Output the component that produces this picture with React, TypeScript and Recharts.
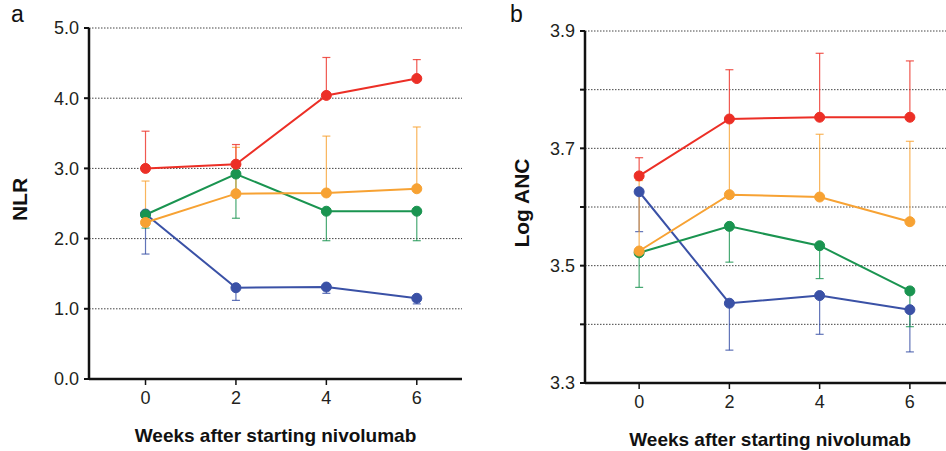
import { LineChart, Line, XAxis, YAxis, CartesianGrid, ErrorBar, Label } from 'recharts';

const WEEKS = [0, 2, 4, 6];

// panel a: NLR
const nlrRed = [3.0, 3.06, 4.04, 4.28];
const nlrRedHi = [3.53, 3.34, 4.58, 4.55];
const nlrOrange = [2.23, 2.64, 2.65, 2.71];
const nlrOrangeHi = [2.82, 3.3, 3.46, 3.59];
const nlrGreen = [2.34, 2.92, 2.39, 2.39];
const nlrGreenLo = [2.15, 2.29, 1.97, 1.97];
const nlrBlue = [2.35, 1.3, 1.31, 1.15];
const nlrBlueLo = [1.78, 1.12, 1.22, 1.07];

// panel b: Log ANC
const ancRed = [3.653, 3.75, 3.753, 3.753];
const ancRedHi = [3.684, 3.834, 3.862, 3.849];
const ancOrange = [3.525, 3.621, 3.617, 3.575];
const ancOrangeHi = [3.645, 3.75, 3.724, 3.712];
const ancGreen = [3.522, 3.567, 3.534, 3.457];
const ancGreenLo = [3.463, 3.506, 3.478, 3.396];
const ancBlue = [3.626, 3.436, 3.449, 3.425];
const ancBlueLo = [3.558, 3.356, 3.383, 3.353];

const NLR_TICKS = [0, 1, 2, 3, 4, 5];
const ANC_TICKS = [3.3, 3.4, 3.5, 3.6, 3.7, 3.8, 3.9];
const X_LABEL = 'Weeks after starting nivolumab';

const RED = '#ec2f26';
const ORANGE = '#f7a233';
const GREEN = '#1a9450';
const BLUE = '#3a51a6';
const FONT = '"Liberation Sans", Arial, sans-serif';

const up = (v: number[], hi: number[]) => v.map((x, i) => [0, hi[i] - x]);
const down = (v: number[], lo: number[]) => v.map((x, i) => [x - lo[i], 0]);

function buildRows(red: number[], redHi: number[], orange: number[], orangeHi: number[],
  green: number[], greenLo: number[], blue: number[], blueLo: number[]) {
  const rE = up(red, redHi), oE = up(orange, orangeHi);
  const gE = down(green, greenLo), bE = down(blue, blueLo);
  return WEEKS.map((w, i) => ({
    week: w,
    red: red[i], redErr: rE[i],
    orange: orange[i], orangeErr: oE[i],
    green: green[i], greenErr: gE[i],
    blue: blue[i], blueErr: bE[i],
  }));
}

const nlrRows = buildRows(nlrRed, nlrRedHi, nlrOrange, nlrOrangeHi, nlrGreen, nlrGreenLo, nlrBlue, nlrBlueLo);
const ancRows = buildRows(ancRed, ancRedHi, ancOrange, ancOrangeHi, ancGreen, ancGreenLo, ancBlue, ancBlueLo);

const tickStyle = { fontSize: 18, fill: '#231f20', fontFamily: FONT };

function YTitle(props: any) {
  const { viewBox, value, gap } = props;
  const cx = viewBox.x + viewBox.width - gap;
  const cy = viewBox.y + viewBox.height / 2 - 4;
  return (
    <text x={cx} y={cy} transform={`rotate(-90, ${cx}, ${cy})`} textAnchor="middle" dominantBaseline="central"
      style={{ fontSize: 21, fontWeight: 'bold', fontFamily: FONT, fill: '#111' }}>
      {value}
    </text>
  );
}

function series() {
  const list = [
    { key: 'blue', color: BLUE },
    { key: 'green', color: GREEN },
    { key: 'orange', color: ORANGE },
    { key: 'red', color: RED },
  ];
  return list.map((s) => (
    <Line key={s.key} type="linear" dataKey={s.key} stroke={s.color} strokeWidth={2}
      dot={{ r: 5, fill: s.color, stroke: s.color, strokeWidth: 1 }} isAnimationActive={false}>
      <ErrorBar dataKey={`${s.key}Err`} direction="y" width={4} stroke={s.color} strokeOpacity={0.8}
        strokeWidth={1.2} isAnimationActive={false} />
    </Line>
  ));
}

function Panel(props: { rows: any[]; domainX: number[]; domainY: number[]; ticks: number[];
  fmt: (v: number) => string; title: string; width: number; top: number; bottom: number; yAxisLeft: number; titleGap: number }) {
  const { rows, domainX, domainY, ticks, fmt, title, width, top, bottom, yAxisLeft, titleGap } = props;
  return (
    <LineChart width={width} height={451} data={rows}
      margin={{ top, right: 8, bottom: bottom - 63, left: yAxisLeft - 60 }}>
      <CartesianGrid horizontal vertical={false} stroke="#444" strokeDasharray="1.5 1.5" />
      <XAxis type="number" dataKey="week" domain={domainX} ticks={WEEKS} allowDataOverflow
        height={63} tickSize={6} tickMargin={6} tick={tickStyle}
        axisLine={{ stroke: '#111', strokeWidth: 2.5 }} tickLine={{ stroke: '#111', strokeWidth: 1.5 }}>
        <Label value={X_LABEL} position="insideBottom" offset={0}
          style={{ fontSize: 19, fontWeight: 'bold', fontFamily: FONT, fill: '#111' }} />
      </XAxis>
      <YAxis type="number" domain={domainY} ticks={ticks} interval={0} allowDataOverflow width={60}
        tickFormatter={fmt} tickSize={5} tickMargin={5} tick={tickStyle}
        axisLine={{ stroke: '#111', strokeWidth: 2.5 }} tickLine={{ stroke: '#111', strokeWidth: 2 }}>
        <Label content={(p: any) => <YTitle {...p} value={title} gap={titleGap} />} />
      </YAxis>
      {series()}
    </LineChart>
  );
}

export default function App() {
  return (
    <div style={{ position: 'absolute', left: 0, top: 0, width: 946, height: 451, overflow: 'hidden', background: '#fff' }}>
      <div style={{ position: 'absolute', left: 11, top: 1, fontSize: 23, fontFamily: FONT, color: '#111' }}>a</div>
      <div style={{ position: 'absolute', left: 510, top: 1, fontSize: 23, fontFamily: FONT, color: '#111' }}>b</div>
      <div style={{ position: 'absolute', left: 0, top: 0 }}>
        <Panel rows={nlrRows} domainX={[-1.25, 7]} domainY={[0, 5]} ticks={NLR_TICKS}
          fmt={(v) => v.toFixed(1)} title="NLR" width={470} top={28} bottom={72} yAxisLeft={89} titleGap={70} />
      </div>
      <div style={{ position: 'absolute', left: 476, top: 0 }}>
        <Panel rows={ancRows} domainX={[-1.2, 7]} domainY={[3.3, 3.9]} ticks={ANC_TICKS}
          fmt={(v) => (Math.round(v * 10) % 2 === 1 ? v.toFixed(1) : '')} title="Log ANC"
          width={487} top={31} bottom={68} yAxisLeft={109} titleGap={64} />
      </div>
    </div>
  );
}
